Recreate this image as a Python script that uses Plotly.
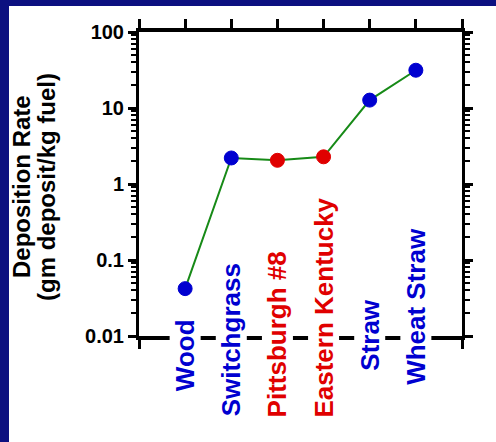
import plotly.graph_objects as go

categories = ["Wood", "Switchgrass", "Pittsburgh #8", "Eastern Kentucky", "Straw", "Wheat Straw"]
deposition_rate = [0.042, 2.2, 2.05, 2.28, 12.7, 31.4]
fuel_type = ["biomass", "biomass", "coal", "coal", "biomass", "biomass"]
y_tick_values = [0.01, 0.1, 1, 10, 100]
y_tick_labels = ["0.01", "0.1", "1", "10", "100"]

BLUE = "#0000d0"
RED = "#e00000"
GREEN = "#178a17"
NAVY = "#0c1080"
color_map = {"biomass": BLUE, "coal": RED}
colors = [color_map[f] for f in fuel_type]
xpos = list(range(1, len(categories) + 1))

# label vertical offsets (px) relative to bottom axis
label_shift = [-19, -4, 2, 28, 1, 30]

fig = go.Figure()
fig.add_trace(go.Scatter(
    x=xpos, y=deposition_rate, mode="lines+markers",
    line=dict(color=GREEN, width=2),
    marker=dict(color=colors, size=14, line=dict(color=colors, width=1)),
    showlegend=False, hoverinfo="skip",
))

W, H = 496, 442
L, R, T, B = 139, 34, 32, 106
pw, ph = W - L - R, H - T - B

def px_x(p):
    return (p - L) / pw

def px_y(p):
    return (H - B - p) / ph

shapes = [
    dict(type="rect", xref="paper", yref="paper", x0=px_x(9), x1=px_x(W + 2), y0=px_y(H + 2), y1=px_y(6),
         fillcolor="white", line=dict(width=0), layer="below"),
]

annotations = []
for i, (c, col, s) in enumerate(zip(categories, colors, label_shift)):
    annotations.append(dict(
        x=xpos[i], xref="x", y=0, yref="paper", yshift=s, text=c, textangle=-90,
        showarrow=False, xanchor="center", yanchor="middle",
        font=dict(family="Arial", size=26, color=col, weight=700),
        bgcolor="white", borderpad=0,
    ))
annotations.append(dict(x=px_x(21), y=px_y(187), xref="paper", yref="paper", text="Deposition Rate",
                        textangle=-90, showarrow=False, xanchor="center", yanchor="middle",
                        font=dict(family="Arial", size=24, color="black", weight=700)))
annotations.append(dict(x=px_x(46), y=px_y(187), xref="paper", yref="paper", text="(gm deposit/kg fuel)",
                        textangle=-90, showarrow=False, xanchor="center", yanchor="middle",
                        font=dict(family="Arial", size=24, color="black", weight=700)))

fig.update_layout(
    width=W, height=H,
    margin=dict(l=L, r=R, t=T, b=B),
    paper_bgcolor=NAVY, plot_bgcolor="white",
    shapes=shapes, annotations=annotations,
    xaxis=dict(range=[0, 7], tickvals=list(range(0, 8)), showticklabels=False,
               ticks="outside", ticklen=9, tickwidth=3, tickcolor="black",
               showline=True, linewidth=4, linecolor="black", mirror="ticks",
               showgrid=False, zeroline=False, fixedrange=True),
    xaxis2=dict(range=[0, 7], tickvals=list(range(0, 8)), showticklabels=False,
                overlaying="x", side="top", anchor="y",
                ticks="inside", ticklen=9, tickwidth=3, tickcolor="black",
                showline=False, showgrid=False, zeroline=False),
    yaxis=dict(type="log", range=[-2, 2], tickmode="array", tickvals=y_tick_values, ticktext=y_tick_labels,
               ticks="outside", ticklen=8, tickwidth=3, tickcolor="black",
               minor=dict(ticks="outside", ticklen=5, tickwidth=2, tickcolor="black", dtick="D1", showgrid=False),
               showline=True, linewidth=3, linecolor="black", mirror="ticks",
               showgrid=False, zeroline=False,
               tickfont=dict(family="Arial", size=20, color="black", weight=700)),
)
fig.write_html("out.html", config={"displayModeBar": False, "staticPlot": True})

with open("out.html", "r", encoding="utf-8") as f:
    html = f.read()
html = html.replace("<head>", "<head><style>html,body{margin:0;padding:0;overflow:hidden;}</style>", 1)
with open("out.html", "w", encoding="utf-8") as f:
    f.write(html)
